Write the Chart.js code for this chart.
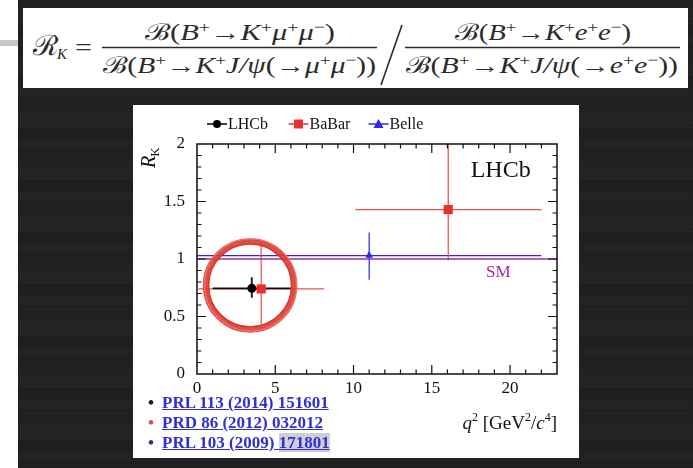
<!DOCTYPE html>
<html>
<head>
<meta charset="utf-8">
<script src="https://cdn.jsdelivr.net/npm/chart.js@4.4.1/dist/chart.umd.min.js"></script>
<style>
  html,body{margin:0;padding:0;}
  body{width:693px;height:468px;position:relative;overflow:hidden;background:#fff;font-family:'Liberation Serif',serif;}
  #wood{position:absolute;left:18px;top:0;width:675px;height:468px;
    background:
      repeating-linear-gradient(180deg, rgba(255,255,255,0.0) 0px, rgba(255,255,255,0.025) 1px, rgba(0,0,0,0.0) 3px, rgba(255,255,255,0.015) 6px, rgba(0,0,0,0.03) 8px, rgba(255,255,255,0.02) 11px, rgba(0,0,0,0) 13px),
      repeating-linear-gradient(180deg, #1f1f1f 0px, #222 23px, #1b1b1b 26px, #212121 41px, #1d1d1d 52px);}
  #gray{position:absolute;left:0;top:40px;width:18px;height:6px;background:#c8c8c8;}
  #fbox{position:absolute;left:23px;top:8px;width:665px;height:80px;background:#fff;}
  #panel{position:absolute;left:133px;top:105px;width:446px;height:353px;background:#fff;}
  #c{position:absolute;left:133px;top:105px;}
  .ref{position:absolute;left:148px;height:20px;line-height:20px;font:bold 17px 'Liberation Serif',serif;white-space:nowrap;}
  .ref .b{display:inline-block;width:14px;font-weight:bold;}
  .ref a{color:#2f2fd2;text-decoration:underline;}
  .hl{background:#cfcfd4;}
  svg text{font-family:'Liberation Serif','DejaVu Serif',serif;fill:#2b2b2b;}
</style>
</head>
<body>
<div id="wood"></div>
<div id="gray"></div>
<div id="fbox"></div>
<svg id="formula" width="693" height="100" style="position:absolute;left:0;top:0">
  <text x="33" y="55" font-size="28" textLength="25" lengthAdjust="spacingAndGlyphs">ℛ</text>
  <text x="57" y="59" font-size="15" font-style="italic">K</text>
  <text x="75" y="56" font-size="26" textLength="17" lengthAdjust="spacingAndGlyphs">=</text>

  <text x="145" y="40" font-size="23" textLength="190" lengthAdjust="spacingAndGlyphs">ℬ(<tspan font-style="italic">B</tspan><tspan font-size="15" dy="-8">+</tspan><tspan dy="8">→</tspan><tspan font-style="italic">K</tspan><tspan font-size="15" dy="-8">+</tspan><tspan font-style="italic" dy="8">μ</tspan><tspan font-size="15" dy="-8">+</tspan><tspan font-style="italic" dy="8">μ</tspan><tspan font-size="15" dy="-8">−</tspan><tspan dy="8">)</tspan></text>
  <line x1="102" y1="47.5" x2="377" y2="47.5" stroke="#2b2b2b" stroke-width="1.3"/>
  <text x="103" y="73" font-size="23" textLength="273" lengthAdjust="spacingAndGlyphs">ℬ(<tspan font-style="italic">B</tspan><tspan font-size="15" dy="-8">+</tspan><tspan dy="8">→</tspan><tspan font-style="italic">K</tspan><tspan font-size="15" dy="-8">+</tspan><tspan font-style="italic" dy="8">J/ψ</tspan>(→<tspan font-style="italic">μ</tspan><tspan font-size="15" dy="-8">+</tspan><tspan font-style="italic" dy="8">μ</tspan><tspan font-size="15" dy="-8">−</tspan><tspan dy="8">))</tspan></text>

  <line x1="402" y1="25" x2="381" y2="85" stroke="#2b2b2b" stroke-width="1.6"/>

  <text x="455" y="40" font-size="23" textLength="176" lengthAdjust="spacingAndGlyphs">ℬ(<tspan font-style="italic">B</tspan><tspan font-size="15" dy="-8">+</tspan><tspan dy="8">→</tspan><tspan font-style="italic">K</tspan><tspan font-size="15" dy="-8">+</tspan><tspan font-style="italic" dy="8">e</tspan><tspan font-size="15" dy="-8">+</tspan><tspan font-style="italic" dy="8">e</tspan><tspan font-size="15" dy="-8">−</tspan><tspan dy="8">)</tspan></text>
  <line x1="405" y1="47.5" x2="680" y2="47.5" stroke="#2b2b2b" stroke-width="1.3"/>
  <text x="406" y="73" font-size="23" textLength="272" lengthAdjust="spacingAndGlyphs">ℬ(<tspan font-style="italic">B</tspan><tspan font-size="15" dy="-8">+</tspan><tspan dy="8">→</tspan><tspan font-style="italic">K</tspan><tspan font-size="15" dy="-8">+</tspan><tspan font-style="italic" dy="8">J/ψ</tspan>(→<tspan font-style="italic">e</tspan><tspan font-size="15" dy="-8">+</tspan><tspan font-style="italic" dy="8">e</tspan><tspan font-size="15" dy="-8">−</tspan><tspan dy="8">))</tspan></text>
</svg>
<div id="panel"></div>
<canvas id="c" width="446" height="353"></canvas>
<div class="ref" style="top:393px"><span class="b" style="color:#111">•</span><a>PRL 113 (2014) 151601</a></div>
<div class="ref" style="top:413px"><span class="b" style="color:#e04a4a">•</span><a>PRD 86 (2012) 032012</a></div>
<div class="ref" style="top:433px"><span class="b" style="color:#2a3590">•</span><a>PRL 103 (2009) <span class="hl">171801</span></a></div>

<script>
// ---- data ----
const seriesNames = ['LHCb', 'BaBar', 'Belle'];
const lhcbQ2   = [3.5];
const lhcbQ2Lo = [1.0];
const lhcbQ2Hi = [6.0];
const lhcbRK   = [0.745];
const lhcbUp   = [0.097];
const lhcbDn   = [0.082];

const babarQ2   = [4.1, 16.05];
const babarQ2Lo = [0.1, 10.11];
const babarQ2Hi = [8.12, 22.0];
const babarRK   = [0.74, 1.43];
const babarUp   = [0.40, 0.65];
const babarDn   = [0.31, 0.44];

const belleQ2   = [11.0];
const belleQ2Lo = [0.0];
const belleQ2Hi = [22.0];
const belleRK   = [1.03];
const belleUp   = [0.20];
const belleDn   = [0.21];

const smQ2 = [0, 23];
const smRK = [1.0, 1.0];

const xTickLabels = ['0', '5', '10', '15', '20'];
const yTickLabels = ['0', '0.5', '1', '1.5', '2'];
const circleQ2 = 3.39, circleRK = 0.77; // centre of the hand-drawn highlight ring

const pts = (xs, ys) => xs.map((x, i) => ({x, y: ys[i]}));

const COLORS = {lhcb:'#000000', babar:'#e8302a', babarErr:'#ea4f49', belle:'#2b2be0', sm:'#9a2e9c'};
const SERIF = "'Liberation Serif', 'DejaVu Serif', serif";

const decor = {
  id: 'decor',
  beforeDatasetsDraw(chart) {
    const {ctx, chartArea: a, scales: {x, y}} = chart;
    ctx.save();
    ctx.beginPath(); ctx.rect(a.left, a.top, a.width, a.height); ctx.clip();
    const dss = chart.data.datasets.slice().reverse();
    dss.forEach(ds => {
      if (!ds.err) return;
      ctx.strokeStyle = ds.errColor; ctx.lineWidth = ds.errWidth;
      ds.data.forEach((p, i) => {
        const px = x.getPixelForValue(p.x), py = y.getPixelForValue(p.y);
        ctx.beginPath();
        ctx.moveTo(x.getPixelForValue(ds.err.lo[i]), py);
        ctx.lineTo(x.getPixelForValue(ds.err.hi[i]), py);
        ctx.moveTo(px, y.getPixelForValue(p.y + ds.err.up[i]));
        ctx.lineTo(px, y.getPixelForValue(p.y - ds.err.dn[i]));
        ctx.stroke();
      });
    });
    ctx.restore();
  },
  afterDatasetsDraw(chart) {
    const {ctx, scales: {x, y}} = chart;
    const cx = x.getPixelForValue(circleQ2), cy = y.getPixelForValue(circleRK);
    ctx.save();
    ctx.strokeStyle = 'rgba(222,58,48,0.9)'; ctx.lineWidth = 6.5;
    ctx.beginPath(); ctx.arc(cx, cy, 44, 0, Math.PI * 2); ctx.stroke();
    ctx.strokeStyle = 'rgba(245,150,140,0.55)'; ctx.lineWidth = 1.2;
    ctx.beginPath(); ctx.arc(cx + 0.5, cy - 0.5, 46, 0, Math.PI * 2); ctx.stroke();
    ctx.strokeStyle = 'rgba(200,40,32,0.6)'; ctx.lineWidth = 1.2;
    ctx.beginPath(); ctx.arc(cx, cy, 41.5, 0, Math.PI * 2); ctx.stroke();
    ctx.restore();
  },
  afterDraw(chart) {
    const {ctx, chartArea: a, scales: {x, y}} = chart;
    ctx.save();
    // frame
    ctx.strokeStyle = '#111'; ctx.lineWidth = 1.5;
    ctx.strokeRect(a.left, a.top, a.width, a.height);
    // inward ticks
    ctx.lineWidth = 1.2;
    ctx.beginPath();
    for (let v = 1; v < 23; v++) {
      const px = x.getPixelForValue(v), L = (v % 5 === 0) ? 9 : 4.5;
      ctx.moveTo(px, a.bottom); ctx.lineTo(px, a.bottom - L);
      ctx.moveTo(px, a.top); ctx.lineTo(px, a.top + L);
    }
    for (let k = 1; k < 20; k++) {
      const py = y.getPixelForValue(k / 10), L = (k % 5 === 0) ? 9 : 4.5;
      ctx.moveTo(a.left, py); ctx.lineTo(a.left + L, py);
      ctx.moveTo(a.right, py); ctx.lineTo(a.right - L, py);
    }
    ctx.stroke();

    // in-plot labels
    ctx.fillStyle = '#111'; ctx.font = `24px ${SERIF}`; ctx.textAlign = 'center'; ctx.textBaseline = 'middle';
    ctx.fillText('LHCb', x.getPixelForValue(19.4), y.getPixelForValue(1.77));
    ctx.fillStyle = COLORS.sm; ctx.font = `17px ${SERIF}`;
    ctx.fillText('SM', x.getPixelForValue(19.25), y.getPixelForValue(0.885));

    // legend (top)
    const ly = a.top - 20;
    const items = [
      {name: seriesNames[0], cx: a.left + 20, color: COLORS.lhcb, shape: 'circle'},
      {name: seriesNames[1], cx: a.left + 101.5, color: COLORS.babar, shape: 'rect'},
      {name: seriesNames[2], cx: a.left + 181.5, color: COLORS.belle, shape: 'tri'}
    ];
    ctx.font = `16px ${SERIF}`; ctx.textAlign = 'left'; ctx.textBaseline = 'middle';
    items.forEach(it => {
      ctx.strokeStyle = it.color; ctx.fillStyle = it.color; ctx.lineWidth = 1.5;
      ctx.beginPath(); ctx.moveTo(it.cx - 10, ly); ctx.lineTo(it.cx + 10, ly); ctx.stroke();
      ctx.beginPath();
      if (it.shape === 'circle') ctx.arc(it.cx, ly, 4, 0, Math.PI * 2);
      else if (it.shape === 'rect') ctx.rect(it.cx - 4.5, ly - 4.5, 9, 9);
      else { ctx.moveTo(it.cx, ly - 5); ctx.lineTo(it.cx + 5, ly + 4); ctx.lineTo(it.cx - 5, ly + 4); ctx.closePath(); }
      ctx.fill();
      ctx.fillStyle = '#111';
      ctx.fillText(it.name, it.cx + 11, ly + 1);
    });

    // y title  R_K (rotated)
    ctx.save();
    ctx.translate(a.left - 42, a.top + 24);
    ctx.rotate(-Math.PI / 2);
    ctx.fillStyle = '#111'; ctx.textBaseline = 'alphabetic'; ctx.textAlign = 'left';
    ctx.font = `italic 20px ${SERIF}`;
    ctx.fillText('R', 0, 0);
    const rw = ctx.measureText('R').width;
    ctx.font = `13px ${SERIF}`;
    ctx.fillText('K', rw - 1, 4);
    ctx.restore();

    // x title  q^2 [GeV^2/c^4]  (right aligned to plot edge)
    const parts = [
      {t: 'q', f: `italic 19px ${SERIF}`, dy: 0},
      {t: '2', f: `12px ${SERIF}`, dy: -8},
      {t: ' [GeV', f: `19px ${SERIF}`, dy: 0},
      {t: '2', f: `12px ${SERIF}`, dy: -8},
      {t: '/', f: `19px ${SERIF}`, dy: 0},
      {t: 'c', f: `italic 19px ${SERIF}`, dy: 0},
      {t: '4', f: `12px ${SERIF}`, dy: -8},
      {t: ']', f: `19px ${SERIF}`, dy: 0}
    ];
    let tw = 0;
    parts.forEach(p => { ctx.font = p.f; p.w = ctx.measureText(p.t).width; tw += p.w; });
    let tx = a.right - tw, tyb = a.bottom + 55;
    ctx.fillStyle = '#111'; ctx.textBaseline = 'alphabetic';
    parts.forEach(p => { ctx.font = p.f; ctx.fillText(p.t, tx, tyb + p.dy); tx += p.w; });
    ctx.restore();
  }
};

new Chart(document.getElementById('c'), {
  type: 'scatter',
  data: {
    datasets: [
      {label: seriesNames[0], data: pts(lhcbQ2, lhcbRK), pointStyle: 'circle', pointRadius: 4.5,
       backgroundColor: COLORS.lhcb, borderColor: COLORS.lhcb, borderWidth: 0,
       err: {lo: lhcbQ2Lo, hi: lhcbQ2Hi, up: lhcbUp, dn: lhcbDn}, errColor: '#111', errWidth: 1.8},
      {label: seriesNames[1], data: pts(babarQ2, babarRK), pointStyle: 'rect', pointRadius: 6.5,
       backgroundColor: COLORS.babar, borderColor: COLORS.babar, borderWidth: 0,
       err: {lo: babarQ2Lo, hi: babarQ2Hi, up: babarUp, dn: babarDn}, errColor: COLORS.babarErr, errWidth: 1.2},
      {label: seriesNames[2], data: pts(belleQ2, belleRK), pointStyle: 'triangle', pointRadius: 4.5,
       backgroundColor: COLORS.belle, borderColor: COLORS.belle, borderWidth: 0,
       err: {lo: belleQ2Lo, hi: belleQ2Hi, up: belleUp, dn: belleDn}, errColor: COLORS.belle, errWidth: 1.2},
      {type: 'line', label: 'SM', data: pts(smQ2, smRK), borderColor: COLORS.sm, borderWidth: 1.6,
       pointRadius: 0, fill: false, order: 5}
    ]
  },
  options: {
    responsive: false,
    animation: false,
    devicePixelRatio: 1,
    layout: {padding: {top: 39, right: 22, left: 0, bottom: 0}},
    plugins: {legend: {display: false}, tooltip: {enabled: false}},
    scales: {
      x: {
        type: 'linear', min: 0, max: 23, position: 'bottom',
        grid: {display: false},
        border: {display: false},
        ticks: {stepSize: 5, includeBounds: false, padding: -4, color: '#111', maxRotation: 0,
                font: {family: SERIF, size: 17},
                callback: (v) => { const i = [0,5,10,15,20].indexOf(v); return i >= 0 ? xTickLabels[i] : ''; }},
        afterFit: (s) => { s.height = 84; }
      },
      y: {
        type: 'linear', min: 0, max: 2, position: 'left',
        grid: {display: false},
        border: {display: false},
        ticks: {stepSize: 0.5, includeBounds: false, padding: 4, color: '#111',
                font: {family: SERIF, size: 17},
                callback: (v) => { const i = Math.round(v * 2); return yTickLabels[i] ?? ''; }},
        afterFit: (s) => { s.width = 64; }
      }
    }
  },
  plugins: [decor]
});
</script>
</body>
</html>
